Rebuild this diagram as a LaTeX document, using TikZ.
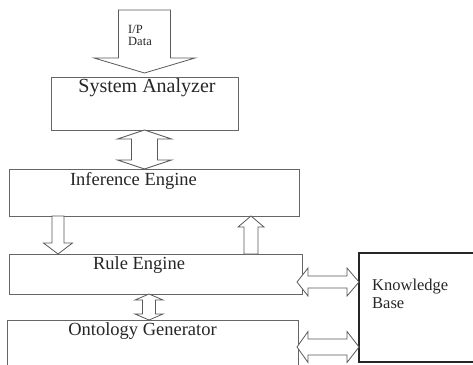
\documentclass[tikz,border=0pt]{standalone}
\usepackage{fontspec}
\setmainfont{Liberation Serif}
\usetikzlibrary{calc}

\begin{document}
\begin{tikzpicture}[
  x=1pt, y=-1pt,
  box/.style={
    draw=black!60, line width=0.8pt,
    inner sep=0pt, outer sep=0pt},
  kbbox/.style={
    draw=black!85, line width=1.4pt,
    inner sep=0pt, outer sep=0pt},
  title/.style={
    anchor=base, inner sep=0pt,
    text=black!85,
    font=\fontsize{18.5}{20}\selectfont},
  blk/.style={
    draw=black!65, line width=0.8pt,
    fill=white, line join=miter}
]
\clip (0,0) rectangle (473,364);

% boxes
\node[box, minimum width=187, minimum height=53]
  (sa) at (144.5,103.5) {};
\node[box, minimum width=290, minimum height=47]
  (ie) at (154,192.5) {};
\node[box, minimum width=293, minimum height=40]
  (re) at (155.5,274) {};
\node[box, minimum width=291, minimum height=60]
  (og) at (152.5,350) {};
\node[kbbox, minimum width=131, minimum height=109]
  (kb) at (424.5,307.5) {};

% texts
\node[title, font=\fontsize{20}{22}\selectfont]
  (saT) at (147,92) {System Analyzer};
\node[title] (ieT) at (133.5,185) {Inference Engine};
\node[title] (reT) at (139,269) {Rule Engine};
\node[title] (ogT) at (142.5,335) {Ontology Generator};
\node[anchor=north west, inner sep=0pt, align=left,
  text=black!85, font=\fontsize{16.5}{18}\selectfont]
  (kbT) at (372,279) {Knowledge\\Base};

% input
\coordinate (in) at (144.5,10);
\draw[blk] ($(in)+(-26,0)$) -- ($(sa.north)+(-26,-19)$)
  -- ++(-24.5,0) -- ($(sa.north)+(0,-4)$)
  -- ($(sa.north)+(50.5,-19)$) -- ++(-24.5,0)
  -- ($(in)+(26,0)$) -- cycle;
\node[anchor=north west, inner sep=0pt, align=left,
  text=black!85, font=\fontsize{12.5}{12}\selectfont]
  (inT) at (128,25) {I/P\\Data};

% SA <-> IE
\draw[blk] (sa.south) -- ++(27,9) -- ++(-14,0)
  -- ($(sa.south |- ie.north)+(13,-9)$) -- ++(14,0)
  -- (sa.south |- ie.north) -- ++(-27,-9) -- ++(14,0)
  -- ($(sa.south)+(-13,9)$) -- ++(-14,0) -- cycle;

% IE -> RE
\draw[blk] ($(ie.south west)+(43,0)$) -- ++(12,0)
  -- ($(re.north west)+(55,-11)$) -- ++(8.5,0)
  -- ($(re.north west)+(49,0)$) -- ++(-14.5,-11)
  -- ++(8.5,0) -- cycle;

% RE -> IE
\draw[blk] ($(re.north west)+(235,0)$) -- ++(14,0)
  -- ($(ie.south west)+(249,11)$) -- ++(6,0)
  -- ($(ie.south west)+(242,0)$) -- ++(-13,11)
  -- ++(6,0) -- cycle;

% RE <-> OG
\draw[blk] ($(re.south west)+(140,0)$) -- ++(14,6) -- ++(-7.5,0)
  -- ($(og.north west)+(148.5,-6)$) -- ++(7.5,0)
  -- ($(og.north west)+(142,0)$) -- ++(-14,-6) -- ++(7.5,0)
  -- ($(re.south west)+(133.5,6)$) -- ++(-7.5,0) -- cycle;

% RE <-> KB
\coordinate (reK) at ($(re.north east)+(-5,28)$);
\draw[blk] (reK) -- ++(11,-14) -- ++(0,8)
  -- ($(kb.west |- reK)+(-12,-6)$) -- ++(0,-8)
  -- (kb.west |- reK) -- ++(-12,14) -- ++(0,-8)
  -- ($(reK)+(11,6)$) -- ++(0,8) -- cycle;

% OG <-> KB
\coordinate (ogK) at ($(og.north east)+(-1,27)$);
\draw[blk] (ogK) -- ++(11,-15.5) -- ++(0,7.5)
  -- ($(kb.west |- ogK)+(-12,-8)$) -- ++(0,-7.5)
  -- (kb.west |- ogK) -- ++(-12,15.5) -- ++(0,-7.5)
  -- ($(ogK)+(11,8)$) -- ++(0,7.5) -- cycle;
\end{tikzpicture}
\end{document}
